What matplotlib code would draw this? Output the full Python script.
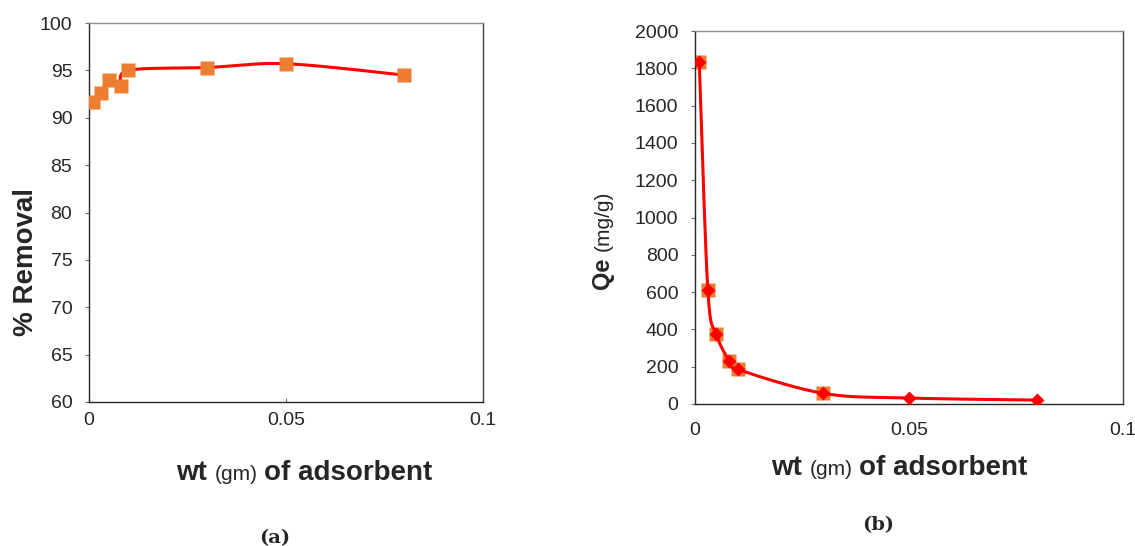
import numpy as np
import matplotlib
matplotlib.use("Agg")
import matplotlib.pyplot as plt
from matplotlib.transforms import IdentityTransform

plt.rcParams['font.family'] = ['Liberation Sans', 'DejaVu Sans']

# === Data ===
wt = [0.001, 0.003, 0.005, 0.008, 0.010, 0.030, 0.050, 0.080]
removal = [91.7, 92.6, 94.0, 93.3, 95.0, 95.3, 95.7, 94.5]
qe = [1832, 611, 374, 231, 186, 57, 32, 21]
wt_sq = [0.001, 0.003, 0.005, 0.008, 0.010, 0.030]
qe_sq = [1832, 611, 374, 231, 186, 57]

orange = '#ED7D31'
red = '#FF0000'
W, H = 1135, 546


def smooth(ax, xs, ys, n=40):
    # excel-like smoothed line, computed in axes-fraction space
    x0, x1 = ax.get_xlim()
    y0, y1 = ax.get_ylim()
    p = np.column_stack([(np.array(xs) - x0) / (x1 - x0),
                         (np.array(ys) - y0) / (y1 - y0)])
    pts = [p[0]]
    for i in range(len(p) - 1):
        pm = p[i - 1] if i > 0 else p[i]
        pn = p[i + 2] if i + 2 < len(p) else p[i + 1]
        c1 = p[i] + (p[i + 1] - pm) / 6
        c2 = p[i + 1] - (pn - p[i]) / 6
        t = np.linspace(0, 1, n)[1:, None]
        seg = ((1 - t) ** 3 * p[i] + 3 * (1 - t) ** 2 * t * c1
               + 3 * (1 - t) * t ** 2 * c2 + t ** 3 * p[i + 1])
        pts.extend(seg)
    pts = np.array(pts)
    return x0 + pts[:, 0] * (x1 - x0), y0 + pts[:, 1] * (y1 - y0)


def style(ax, xpad):
    for s in ['left', 'bottom']:
        ax.spines[s].set_color('#262626')
    ax.spines['top'].set_color('#8c8c8c')
    ax.spines['right'].set_color('#404040')
    for s in ax.spines.values():
        s.set_linewidth(1.0)
    ax.tick_params(axis='y', direction='out', length=3, width=0.8, color='#707070',
                   pad=9, labelsize=14, labelcolor='#262626')
    ax.tick_params(axis='x', direction='in', length=3, width=0.8, color='#707070',
                   pad=xpad, labelsize=14, labelcolor='#262626')


fig = plt.figure(figsize=(W / 100, H / 100), dpi=100)

# --- (a) % removal ---
ax1 = fig.add_axes([89 / W, 1 - 402 / H, 394 / W, 379 / H])
ax1.set_xlim(0, 0.1)
ax1.set_ylim(60, 100)
ax1.set_xticks([0, 0.05, 0.1])
ax1.set_xticklabels(['0', '0.05', '0.1'])
ax1.set_yticks(range(60, 101, 5))
style(ax1, 7)
sx, sy = smooth(ax1, wt, removal)
ax1.plot(sx, sy, color=red, lw=2.2, zorder=2)
ax1.plot(wt, removal, 's', color=orange, ms=10, mec='none', zorder=3)

# --- (b) Qe ---
ax2 = fig.add_axes([695 / W, 1 - 404 / H, 428 / W, 373 / H])
ax2.set_xlim(0, 0.1)
ax2.set_ylim(0, 2000)
ax2.set_xticks([0, 0.05, 0.1])
ax2.set_xticklabels(['0', '0.05', '0.1'])
ax2.set_yticks(range(0, 2001, 200))
style(ax2, 13)
ax2.plot(wt_sq, qe_sq, 's', color=orange, ms=9.5, mec='none', zorder=2)
sx, sy = smooth(ax2, wt, qe)
ax2.plot(sx, sy, color=red, lw=2.2, zorder=3)
ax2.plot(wt, qe, 'D', color=red, ms=7.5, mec='none', zorder=4)


def mixed_label(parts, cx, cy, rotation=0):
    # parts: (text, size, weight); cx, cy in pixels from top-left, baseline position
    texts = [fig.text(0, 0, s, fontsize=fs, fontweight=fw, color='#262626',
                      transform=IdentityTransform(), ha='left', va='baseline')
             for s, fs, fw in parts]
    fig.canvas.draw()
    r = fig.canvas.get_renderer()
    gaps = [fs * 100 / 72 * 0.28 for _, fs, _ in parts]
    widths = [t.get_window_extent(r).width for t in texts]
    total = sum(widths) + sum(gaps[:-1])
    pos = -total / 2
    for t, w, g in zip(texts, widths, gaps):
        if rotation == 0:
            t.set_position((cx + pos, H - cy))
        else:
            t.set_position((cx, H - cy + pos))
            t.set_rotation(90)
            t.set_rotation_mode('anchor')
        pos += w + g


mixed_label([('wt', 20, 'bold'), ('(gm)', 15, 'normal'), ('of adsorbent', 20, 'bold')],
            304, 480)
mixed_label([('wt', 20, 'bold'), ('(gm)', 15, 'normal'), ('of adsorbent', 20, 'bold')],
            899, 475)
mixed_label([('% Removal', 20, 'bold')], 33, 262, rotation=90)
mixed_label([('Qe', 17, 'bold'), ('(mg/g)', 15, 'normal')], 609, 240, rotation=90)

fig.text(275 / W, 1 - 543 / H, '(a)', fontsize=14, fontweight='bold',
         family=['DejaVu Serif'], color='#262626', ha='center', va='baseline')
fig.text(878 / W, 1 - 530 / H, '(b)', fontsize=14, fontweight='bold',
         family=['DejaVu Serif'], color='#262626', ha='center', va='baseline')

fig.savefig('out.png', dpi=100)
